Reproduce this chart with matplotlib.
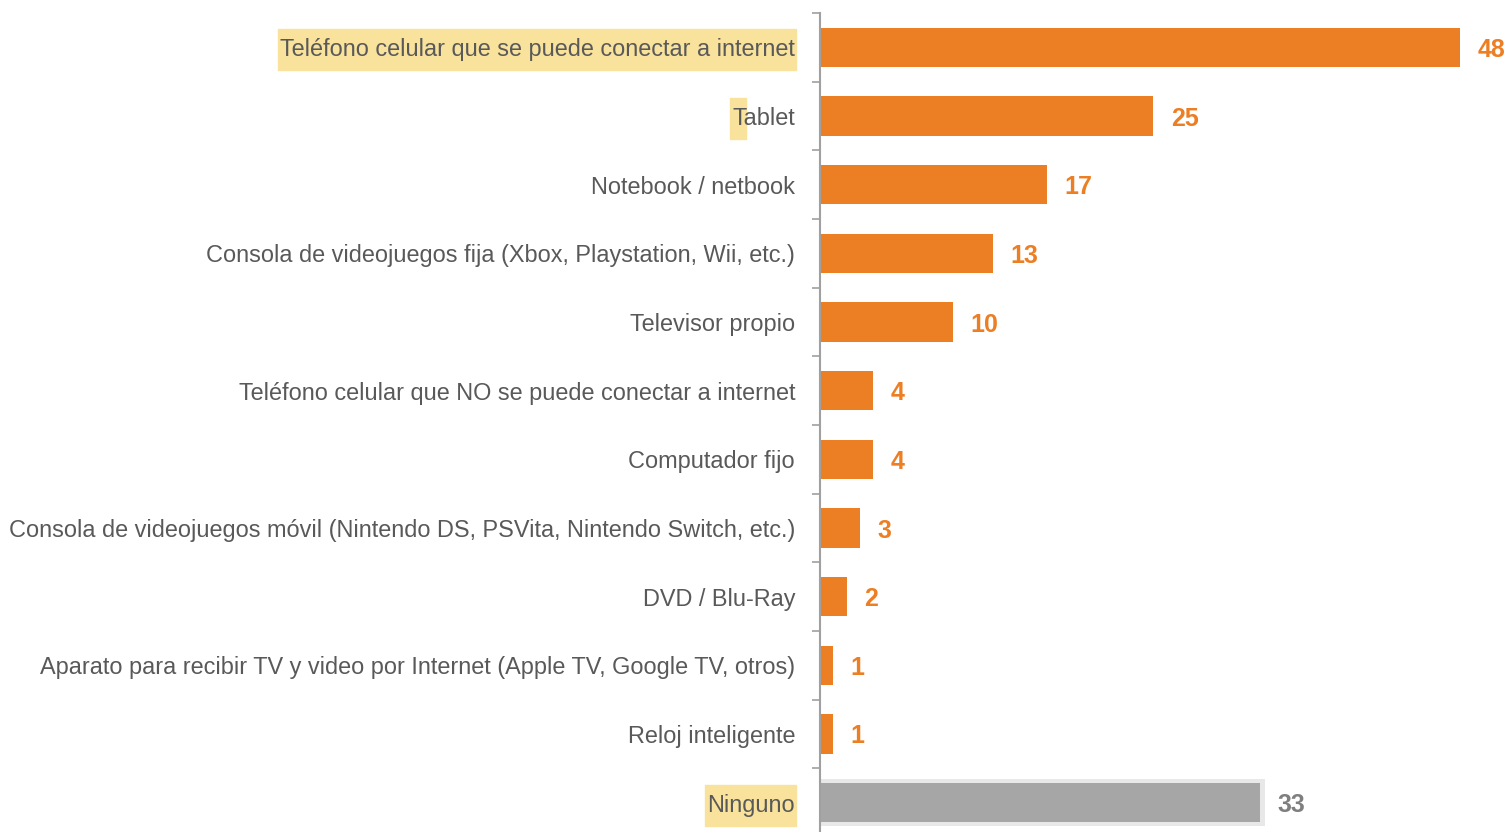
import matplotlib
matplotlib.use("Agg")
import matplotlib.pyplot as plt
from matplotlib.patches import Rectangle
import numpy as np

categorias = [
    "Teléfono celular que se puede conectar a internet",
    "Tablet",
    "Notebook / netbook",
    "Consola de videojuegos fija (Xbox, Playstation, Wii, etc.)",
    "Televisor propio",
    "Teléfono celular que NO se puede conectar a internet",
    "Computador fijo",
    "Consola de videojuegos móvil (Nintendo DS, PSVita, Nintendo Switch, etc.)",
    "DVD / Blu-Ray",
    "Aparato para recibir TV y video por Internet (Apple TV, Google TV, otros)",
    "Reloj inteligente",
    "Ninguno",
]
valores = [48, 25, 17, 13, 10, 4, 4, 3, 2, 1, 1, 33]

NARANJA = "#EC7F24"
GRIS = "#A6A6A6"
TEXTO = "#595959"
AMARILLO = "#F9E29C"
FUENTE = ["Liberation Sans", "DejaVu Sans"]
TAM = 16.9

plt.rcParams["font.family"] = FUENTE

fig = plt.figure(figsize=(15.09, 8.32), dpi=100)
ax = fig.add_axes([820 / 1509, -5 / 832, 1 - 820 / 1509, 824 / 832])

y = np.arange(len(categorias))
colores = [NARANJA] * (len(valores) - 1) + [GRIS]
ax.barh(y, valores, height=0.57, color=colores, zorder=2)
# halo suave de la barra "Ninguno"
ax.barh(y[-1], valores[-1] + 0.45, height=0.68, left=-0.1, color="#E8E8E8", zorder=1)

for yi, v, c in zip(y, valores, colores):
    ax.text(v + 1.3, yi, str(v), va="center_baseline", ha="left", fontsize=18,
            fontweight="bold", color=NARANJA if c == NARANJA else "#7F7F7F")

ax.set_xlim(0, (1509 - 820) / (640 / 48))
ax.set_ylim(len(categorias) - 0.5, -0.5)

ax.set_yticks(y)
ax.set_yticklabels(categorias, fontsize=TAM, color=TEXTO)
ax.set_yticks(np.arange(-0.5, len(categorias)), minor=True)
ax.tick_params(axis="y", which="major", length=0, pad=18)
ax.tick_params(axis="y", which="minor", length=6, width=1.2, color="#A0A0A0", direction="out")
ax.set_xticks([])
for s in ["top", "right", "bottom"]:
    ax.spines[s].set_visible(False)
ax.spines["left"].set_color("#A0A0A0")
ax.spines["left"].set_linewidth(1.5)

# resaltados amarillos detrás de algunas etiquetas
fig.canvas.draw()
r = fig.canvas.get_renderer()
labels = ax.get_yticklabels()
for i in [0, 11]:
    bb = labels[i].get_window_extent(r)
    fig.patches.append(Rectangle((bb.x0 - 2, bb.y0 - 9), bb.width + 3, bb.height + 18,
                                 transform=None, color=AMARILLO, zorder=-1))
bb = labels[1].get_window_extent(r)
t = fig.text(0, 0, "T", fontsize=TAM, family=FUENTE)
tw = t.get_window_extent(r).width
t.remove()
fig.patches.append(Rectangle((bb.x0 - 2, bb.y0 - 9), tw + 1, bb.height + 18,
                             transform=None, color=AMARILLO, zorder=-1))

fig.savefig("out.png", dpi=100)
